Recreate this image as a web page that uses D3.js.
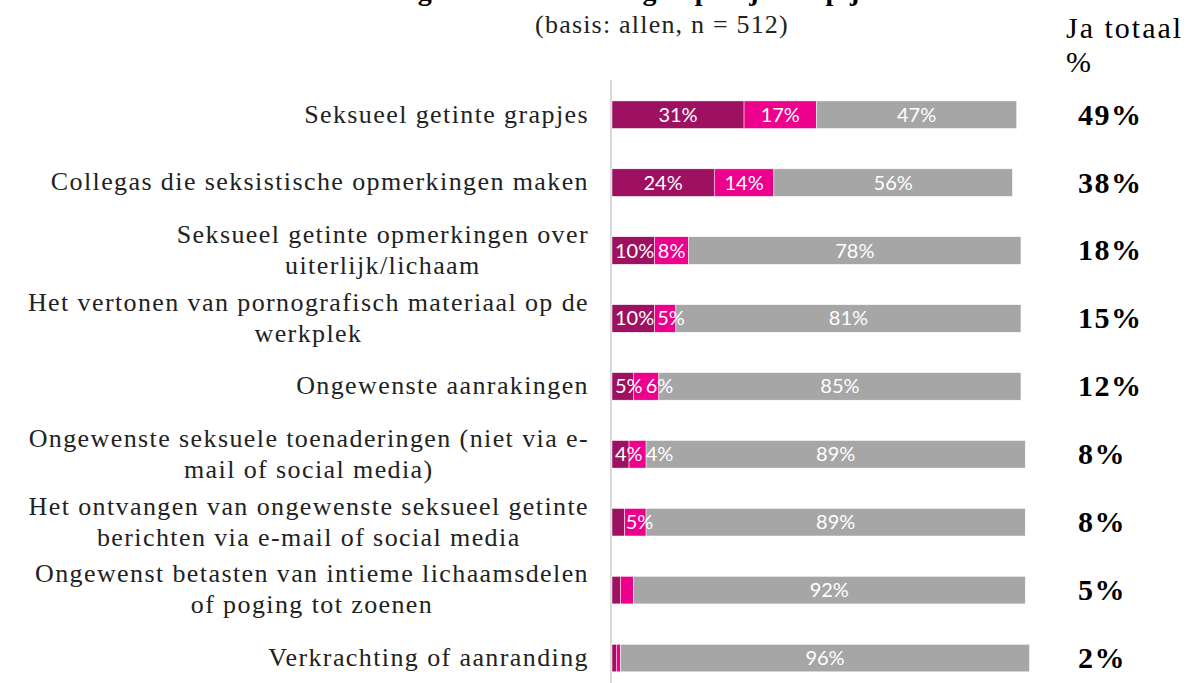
<!DOCTYPE html>
<html>
<head>
<meta charset="utf-8">
<script src="https://cdn.jsdelivr.net/npm/d3@7"></script>
<style>
  body { margin: 0; background: #fff; }
  svg { display: block; }
</style>
</head>
<body>
<div id="chart"></div>
<script>

//Data
var categories = [
  "Seksueel getinte grapjes",
  "Collegas die seksistische opmerkingen maken",
  "Seksueel getinte opmerkingen over|uiterlijk/lichaam",
  "Het vertonen van pornografisch materiaal op de|werkplek",
  "Ongewenste aanrakingen",
  "Ongewenste seksuele toenaderingen (niet via e-|mail of social media)",
  "Het ontvangen van ongewenste seksueel getinte|berichten via e-mail of social media",
  "Ongewenst betasten van intieme lichaamsdelen|of poging tot zoenen",
  "Verkrachting of aanranding"
];
var vaker = [31, 24, 10, 10, 5, 4, 3, 2, 1];
var eenmaal = [17, 14, 8, 5, 6, 4, 5, 3, 1];
var nee = [47, 56, 78, 81, 85, 89, 89, 92, 96];
var jaTotaal = [49, 38, 18, 15, 12, 8, 8, 5, 2];

var colors = ["#9e1060", "#ec008c", "#a6a6a6"];

//Width and height
var w = 1196;
var h = 683;
var left = 612;

var svg = d3.select("#chart")
  .append("svg")
  .attr("width", w)
  .attr("height", h);

var serif = "'Liberation Serif', serif";

//Title (cut off at top, as in the original)
svg.append("text")
  .attr("x", 655)
  .attr("y", 0)
  .attr("text-anchor", "middle")
  .style("font-family", serif)
  .style("font-weight", "bold")
  .style("font-size", "28px")
  .style("letter-spacing", "1px")
  .text("Meegemaakt in het afgelopen jaar op je werk");

svg.append("text")
  .attr("x", 662)
  .attr("y", 33)
  .attr("text-anchor", "middle")
  .style("font-family", serif)
  .style("font-size", "26px")
  .style("letter-spacing", "1.2px")
  .style("fill", "#222")
  .text("(basis: allen, n = 512)");

svg.append("text")
  .attr("x", 1066)
  .attr("y", 38)
  .style("font-family", serif)
  .style("font-size", "30px")
  .style("letter-spacing", "2px")
  .text("Ja totaal");

svg.append("text")
  .attr("x", 1066)
  .attr("y", 72)
  .style("font-family", serif)
  .style("font-size", "30px")
  .text("%");

var xScale = d3.scaleLinear()
  .domain([0, 100])
  .range([left, left + 426]);

var yScale = d3.scaleBand()
  .domain(categories)
  .range([80.75, 692])
  .paddingInner(0.594)
  .paddingOuter(0.297);

//Stack
var rows = categories.map(function(c, i) {
  return { cat: c, vaker: vaker[i], eenmaal: eenmaal[i], nee: nee[i] };
});
var stack = d3.stack().keys(["vaker", "eenmaal", "nee"]);
var series = stack(rows);

//Axis line
svg.append("line")
  .attr("x1", left - 1)
  .attr("x2", left - 1)
  .attr("y1", 80)
  .attr("y2", h)
  .attr("stroke", "#d9d9d9")
  .attr("stroke-width", 2);

//Create bars
var groups = svg.selectAll("g.serie")
  .data(series)
  .enter()
  .append("g")
  .attr("class", "serie")
  .attr("fill", function(d, i) { return colors[i]; });

groups.selectAll("rect")
  .data(function(d) { return d; })
  .enter()
  .append("rect")
  .attr("x", function(d) { return xScale(d[0]); })
  .attr("y", function(d) { return yScale(d.data.cat); })
  .attr("width", function(d) { return xScale(d[1]) - xScale(d[0]); })
  .attr("height", yScale.bandwidth())
  .attr("stroke", "#fff")
  .attr("stroke-width", 0.5);

//Bar labels, pushed right when they collide
var labelG = svg.append("g")
  .style("font-family", "Lato, 'Open Sans', sans-serif")
  .style("font-size", "20px")
  .attr("fill", "#fff");

rows.forEach(function(r, i) {
  var prevRight = left;
  series.forEach(function(s) {
    var seg = s[i];
    var v = seg[1] - seg[0];
    if (v < 4) return;
    var t = labelG.append("text")
      .attr("text-anchor", "middle")
      .attr("y", yScale(r.cat) + yScale.bandwidth() / 2)
      .attr("dy", "0.35em")
      .text(v + "%");
    var half = t.node().getComputedTextLength() / 2;
    var cx = (xScale(seg[0]) + xScale(seg[1])) / 2;
    cx = Math.max(cx, xScale(seg[0]) + half + 1, prevRight + half + 3);
    t.attr("x", cx);
    prevRight = cx + half;
  });
});

//Category labels (right aligned block, lines centered)
var catG = svg.append("g")
  .style("font-family", serif)
  .style("font-size", "26px")
  .style("letter-spacing", "1.4px")
  .attr("fill", "#222");

categories.forEach(function(c) {
  var lines = c.split("|");
  var t = catG.append("text")
    .attr("text-anchor", "middle");
  var yc = yScale(c) + yScale.bandwidth() / 2;
  var lh = 31;
  lines.forEach(function(l, j) {
    t.append("tspan")
      .attr("y", yc + (j - (lines.length - 1) / 2) * lh)
      .attr("dy", "0.3em")
      .text(l);
  });
  var maxW = d3.max(t.selectAll("tspan").nodes(), function(n) { return n.getComputedTextLength(); });
  t.selectAll("tspan").attr("x", 589 - maxW / 2);
});

//Ja totaal column
svg.append("g")
  .selectAll("text")
  .data(jaTotaal)
  .enter()
  .append("text")
  .attr("x", 1078)
  .attr("y", function(d, i) { return yScale(categories[i]) + yScale.bandwidth() / 2; })
  .attr("dy", "0.33em")
  .style("font-family", serif)
  .style("font-weight", "bold")
  .style("font-size", "30px")
  .style("letter-spacing", "1.5px")
  .text(function(d) { return d + "%"; });

</script>
</body>
</html>
